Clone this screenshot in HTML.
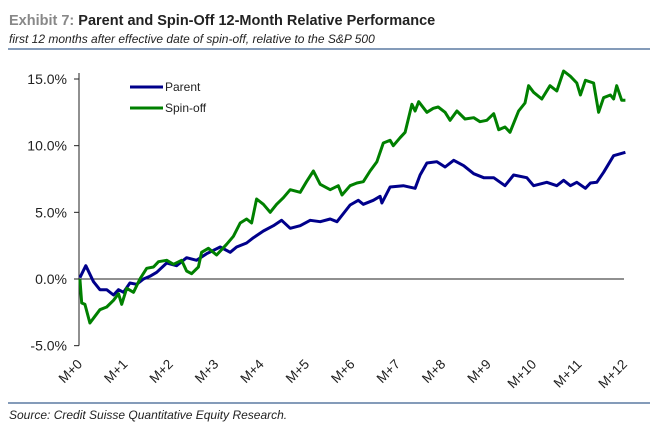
<!DOCTYPE html>
<html><head><meta charset="utf-8"><style>
body{margin:0;background:#fff;font-family:"Liberation Sans",sans-serif}
</style></head><body>
<svg id="c" width="657" height="428" xmlns="http://www.w3.org/2000/svg" font-family="Liberation Sans, sans-serif">
<text x="9" y="25" font-size="14.5" font-weight="bold" fill="#222"><tspan fill="#888">Exhibit 7:</tspan> Parent and Spin-Off 12-Month Relative Performance</text>
<text x="9" y="43" font-size="12" font-style="italic" fill="#222">first 12 months after effective date of spin-off, relative to the S&amp;P 500</text>
<line x1="8" y1="49" x2="650" y2="49" stroke="#3a5f8f" stroke-width="1.2"/>
<line x1="8" y1="403" x2="650" y2="403" stroke="#3a5f8f" stroke-width="1.2"/>
<text x="9" y="419" font-size="12" font-style="italic" fill="#222">Source: Credit Suisse Quantitative Equity Research.</text>
<g id="axes"></g>
<g id="series"></g>
<g>
<line x1="130" y1="87" x2="163" y2="87" stroke="#00008b" stroke-width="3"/>
<text x="165" y="91" font-size="12" fill="#222">Parent</text>
<line x1="130" y1="108" x2="163" y2="108" stroke="#008000" stroke-width="3"/>
<text x="165" y="112" font-size="12" fill="#222">Spin-off</text>
</g>
</svg>
<script>
const xLabels=["M+0","M+1","M+2","M+3","M+4","M+5","M+6","M+7","M+8","M+9","M+10","M+11","M+12"];
const yTicks=[-5,0,5,10,15];
const parentMonths=[0.02,0.15,0.32,0.46,0.61,0.76,0.87,0.98,1.12,1.27,1.42,1.56,1.71,1.93,2.15,2.37,2.59,2.81,3.11,3.33,3.47,3.69,3.84,4.06,4.28,4.46,4.65,4.87,5.09,5.31,5.53,5.68,5.97,6.15,6.26,6.48,6.63,6.67,6.85,7.14,7.40,7.51,7.66,7.88,8.06,8.25,8.47,8.69,8.91,9.13,9.38,9.57,9.86,10.01,10.30,10.52,10.67,10.82,10.96,11.15,11.26,11.40,11.55,11.77,12.03];
const parentValues=[0.1,1.0,-0.2,-0.8,-0.8,-1.2,-0.8,-1.0,-0.3,-0.4,0,0.2,0.5,1.2,1.0,1.6,1.4,1.9,2.4,2.0,2.4,2.7,3.1,3.6,4.0,4.4,3.8,4.0,4.4,4.3,4.5,4.3,5.55,5.9,5.6,5.9,6.2,5.7,6.9,7.0,6.8,7.8,8.7,8.8,8.4,8.9,8.5,7.9,7.6,7.6,7.0,7.8,7.6,7.0,7.25,7.0,7.4,7.0,7.25,6.8,7.2,7.25,8.0,9.25,9.5];
const spinMonths=[0.02,0.06,0.13,0.24,0.35,0.46,0.61,0.76,0.87,0.94,1.05,1.20,1.34,1.49,1.64,1.75,1.93,2.08,2.26,2.37,2.48,2.63,2.70,2.85,3.03,3.25,3.40,3.55,3.69,3.80,3.91,4.06,4.21,4.35,4.50,4.65,4.87,5.01,5.16,5.31,5.53,5.71,5.79,5.97,6.12,6.26,6.41,6.56,6.70,6.85,6.92,7.07,7.18,7.33,7.40,7.48,7.66,7.80,7.91,8.06,8.17,8.32,8.50,8.69,8.83,8.98,9.13,9.24,9.38,9.49,9.68,9.82,9.90,10.01,10.19,10.37,10.52,10.67,10.82,10.96,11.04,11.15,11.33,11.44,11.55,11.70,11.77,11.84,11.95,12.03];
const spinValues=[0,-1.8,-1.9,-3.3,-2.8,-2.3,-2.1,-1.6,-1.1,-1.9,-0.7,-1.0,0,0.8,0.9,1.3,1.4,1.1,1.4,0.6,0.4,0.9,2.0,2.3,1.8,2.6,3.2,4.2,4.5,4.2,6.0,5.6,5.0,5.6,6.1,6.7,6.5,7.3,8.1,7.1,6.7,7.0,6.3,7.0,7.2,7.3,8.1,8.8,10.2,10.4,10.0,10.6,11.0,13.1,12.6,13.3,12.5,12.8,12.9,12.5,11.9,12.6,12.0,12.1,11.8,11.9,12.4,11.2,11.4,11.0,12.6,13.2,14.5,14.0,13.5,14.5,14.1,15.6,15.2,14.7,13.8,14.9,14.7,12.5,13.6,13.8,13.5,14.5,13.4,13.4];

const NS="http://www.w3.org/2000/svg";
const X0=79,X1=624,Y15=79,Y0=279;
const xs=m=>X0+(X1-X0)*m/12;
const ys=v=>Y0-(Y0-Y15)*v/15;
const axes=document.getElementById('axes'),ser=document.getElementById('series');
function mk(tag,attrs,parent){const e=document.createElementNS(NS,tag);for(const k in attrs)e.setAttribute(k,attrs[k]);parent.appendChild(e);return e;}
let ya=mk('line',{x1:X0,y1:ys(15)-6,x2:X0,y2:ys(-5),stroke:'#222','stroke-width':1},axes);


let za=mk('line',{x1:X0,y1:ys(0),x2:X1,y2:ys(0),stroke:'#222','stroke-width':1},axes);


yTicks.forEach(v=>{
  let t=mk('line',{x1:X0-5,y1:ys(v),x2:X0,y2:ys(v),stroke:'#222'},axes);
  
  
  let l=mk('text',{x:67,y:ys(v)+5,'text-anchor':'end','font-size':14,fill:'#222'},axes);
  l.textContent=v.toFixed(1)+'%';
  
  
});
xLabels.forEach((s,i)=>{
  const x=xs(i);
  let l=mk('text',{x:0,y:0,'text-anchor':'end','font-size':13.5,fill:'#222',transform:`translate(${x+4},${365}) rotate(-45)`},axes);
  l.textContent=s;
  
  
});
function line(ms,vs,color,name){
  const d=ms.map((m,i)=>(i?'L':'M')+xs(m).toFixed(1)+' '+ys(vs[i]).toFixed(1)).join(' ');
  let p=mk('path',{d:d,fill:'none',stroke:color,'stroke-width':3,'stroke-linejoin':'round'},ser);
  
  
}
line(parentMonths,parentValues,'#00008b','parent-line');
line(spinMonths,spinValues,'#008000','spinoff-line');
</script>
</body></html>
